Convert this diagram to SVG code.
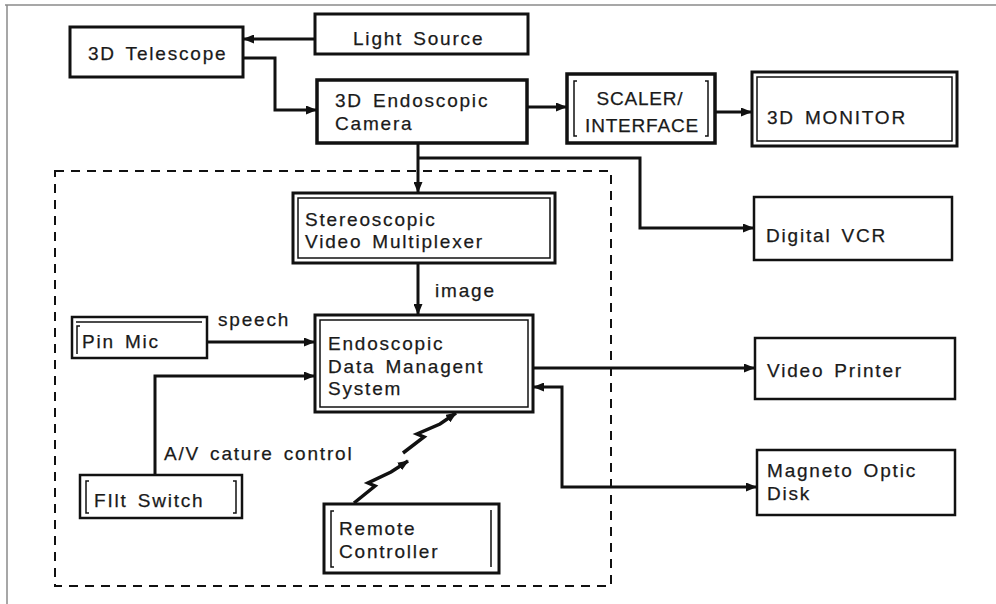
<svg xmlns="http://www.w3.org/2000/svg" width="996" height="604" viewBox="0 0 996 604">
<defs>
<marker id="ah" markerWidth="11" markerHeight="9" refX="10" refY="4.5" orient="auto-start-reverse" markerUnits="userSpaceOnUse"><path d="M0,0 L11,4.5 L0,9 z" fill="#111"/></marker>
<style>
.bx{fill:#fff;stroke:#111;stroke-width:3}
.in{fill:none;stroke:#111;stroke-width:1.5}
.t{font-family:"Liberation Sans",Arial,sans-serif;font-size:19px;fill:#1a1a1a;letter-spacing:1.8px;word-spacing:3px;stroke:#1a1a1a;stroke-width:0.25}
.c{fill:none;stroke:#111;stroke-width:3}
</style>
</defs>
<rect width="996" height="604" fill="#fff"/>
<path d="M5,5 H996 M7,5 V604" stroke="#8a8a8a" stroke-width="1.5" fill="none"/>
<rect x="55" y="171" width="556" height="415" fill="none" stroke="#111" stroke-width="2" stroke-dasharray="9 7"/>
<g id="connectors">
<path class="c" d="M315,39 H244" marker-end="url(#ah)"/>
<path class="c" d="M243,58 H275 V110 H316" marker-end="url(#ah)"/>
<path class="c" d="M527,107 H566" marker-end="url(#ah)"/>
<path class="c" d="M715,112 H751" marker-end="url(#ah)"/>
<path class="c" d="M418,143 V192" marker-end="url(#ah)"/>
<path class="c" d="M418,158 H640 V228 H753" marker-end="url(#ah)"/>
<path class="c" d="M418,263 V314" marker-end="url(#ah)"/>
<path class="c" d="M207,342 H314" marker-end="url(#ah)"/>
<path class="c" d="M155,474 V376 H314" marker-end="url(#ah)"/>
<path class="c" d="M533,368 H754" marker-end="url(#ah)"/>
<path class="c" d="M534,387 H562 V487 H756" marker-start="url(#ah)" marker-end="url(#ah)"/>
<path class="c" d="M354,503 L375,486 L368,483 L391,472 L408,461" style="stroke-width:3.5" marker-end="url(#ah)"/>
<path class="c" d="M403,453 L424,437 L417,434 L440,424 L456,413" style="stroke-width:3.5" marker-end="url(#ah)"/>
</g>
<g id="telescope"><rect class="bx" x="70" y="27" width="173" height="50"/><text class="t" x="88" y="60">3D  Telescope</text></g>
<g id="light-source"><rect class="bx" x="315" y="14" width="213" height="40"/><text class="t" x="353" y="45">Light Source</text></g>
<g id="camera"><rect class="bx" x="317" y="80" width="210" height="63" style="stroke-width:3.5"/><text class="t" x="335" y="107">3D  Endoscopic</text><text class="t" x="335" y="130">Camera</text></g>
<g id="scaler"><rect class="bx" x="567" y="74" width="148" height="69" style="stroke-width:3.5"/><path class="in" d="M577,81 H574 V136 H577 M705,81 H708 V136 H705"/><text class="t" x="640" y="105" text-anchor="middle" style="letter-spacing:0.8px">SCALER/</text><text class="t" x="642" y="132" text-anchor="middle" style="letter-spacing:0.8px">INTERFACE</text></g>
<g id="monitor"><rect class="bx" x="752" y="72" width="205" height="74"/><rect class="in" x="757" y="77" width="195" height="64"/><text class="t" x="767" y="124">3D  MONITOR</text></g>
<g id="vcr"><rect class="bx" x="754" y="197" width="198" height="63" style="stroke-width:2.5"/><text class="t" x="766" y="242">Digital  VCR</text></g>
<g id="multiplexer"><rect class="bx" x="293" y="193" width="262" height="70"/><rect class="in" x="298" y="198" width="252" height="60"/><text class="t" x="305" y="226">Stereoscopic</text><text class="t" x="305" y="248">Video  Multiplexer</text></g>
<text class="t" x="435" y="297">image</text>
<g id="edms"><rect class="bx" x="315" y="315" width="218" height="97"/><rect class="in" x="320" y="320" width="208" height="87"/><text class="t" x="328" y="350">Endoscopic</text><text class="t" x="328" y="373">Data  Managent</text><text class="t" x="328" y="395">System</text></g>
<g id="pin-mic"><rect class="bx" x="72" y="317" width="135" height="41" style="stroke-width:2.5"/><path class="in" d="M76,322 H202 M80,326 H77 V354"/><text class="t" x="82" y="348">Pin  Mic</text></g>
<text class="t" x="218" y="326">speech</text>
<g id="flit-switch"><rect class="bx" x="80" y="475" width="162" height="43" style="stroke-width:2.5"/><path class="in" d="M89,481 H86 V513 H89 M233,481 H236 V513 H233"/><text class="t" x="94" y="507">FIlt  Switch</text></g>
<text class="t" x="164" y="460">A/V  cature  control</text>
<g id="remote"><rect class="bx" x="324" y="504" width="175" height="69"/><path class="in" d="M334,511 H331 V567 H334 M491,510 V567"/><text class="t" x="339" y="535">Remote</text><text class="t" x="339" y="558">Controller</text></g>
<g id="video-printer"><rect class="bx" x="755" y="338" width="200" height="61" style="stroke-width:2.5"/><text class="t" x="767" y="377">Video  Printer</text></g>
<g id="magneto"><rect class="bx" x="757" y="450" width="198" height="65" style="stroke-width:2.5"/><text class="t" x="767" y="477">Magneto  Optic</text><text class="t" x="767" y="500">Disk</text></g>
</svg>
